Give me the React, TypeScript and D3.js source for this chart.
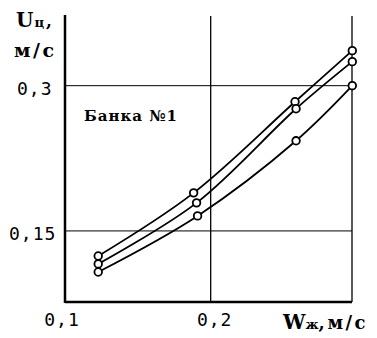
import * as d3 from "d3";
import React from "react";

// values
const curve1X = [0.1228, 0.1883, 0.2579, 0.2972];
const curve1Y = [0.1241, 0.1893, 0.2834, 0.3362];
const curve2X = [0.1228, 0.1903, 0.2586, 0.2972];
const curve2Y = [0.1159, 0.179, 0.2762, 0.3248];
const curve3X = [0.1228, 0.191, 0.2586, 0.2972];
const curve3Y = [0.1076, 0.1655, 0.2431, 0.3];

const xTicks = [0.1, 0.2];
const xTickLabels = ["0,1", "0,2"];
const yTicks = [0.15, 0.3];
const yTickLabels = ["0,15", "0,3"];
const xGrid = [0.2, 0.297];

const width = 377;
const height = 338;
const left = 65;
const right = 352;
const top = 15;
const bottom = 302;

const x = d3.scaleLinear().domain([0.1, 0.297]).range([left, right]);
const y = d3.scaleLinear().domain([0.0766, 0.373]).range([bottom, top]);

const series = [
  { xs: curve1X, ys: curve1Y },
  { xs: curve2X, ys: curve2Y },
  { xs: curve3X, ys: curve3Y },
];

const line = d3
  .line<[number, number]>()
  .x((d) => x(d[0]))
  .y((d) => y(d[1]))
  .curve(d3.curveCatmullRom.alpha(0.5));

const numFont = "'DejaVu Sans Mono', monospace";
const boldFont = "'DejaVu Serif', serif";

const App = () => {
  return (
    <svg
      width={width}
      height={height}
      style={{ position: "absolute", left: 0, top: 0, background: "#fff" }}
    >
      <rect width={width} height={height} fill="#fff" />

      {/* grid */}
      {yTicks.map((t) => (
        <line key={"h" + t} x1={left} x2={right} y1={y(t)} y2={y(t)} stroke="#000" strokeWidth={1} />
      ))}
      {xGrid.map((t) => (
        <line key={"v" + t} x1={x(t)} x2={x(t)} y1={16} y2={bottom} stroke="#000" strokeWidth={1.3} />
      ))}

      {/* axes */}
      <line x1={left} x2={left} y1={top} y2={bottom + 1} stroke="#000" strokeWidth={2.5} />
      <line x1={left} x2={right} y1={bottom} y2={bottom} stroke="#000" strokeWidth={2.5} />

      {/* curves */}
      {series.map((s, i) => (
        <path
          key={"c" + i}
          d={line(s.xs.map((v, j) => [v, s.ys[j]] as [number, number])) || ""}
          fill="none"
          stroke="#000"
          strokeWidth={1.8}
        />
      ))}
      {series.map((s, i) =>
        s.xs.map((v, j) => (
          <circle
            key={"p" + i + "-" + j}
            cx={x(v)}
            cy={y(s.ys[j])}
            r={3.8}
            fill="#fff"
            stroke="#000"
            strokeWidth={1.8}
          />
        ))
      )}

      {/* tick labels */}
      {yTicks.map((t, i) => (
        <text
          key={"yl" + t}
          x={yTickLabels[i].length > 3 ? 9 : 17}
          y={y(t) + 9}
          fontFamily={numFont}
          fontSize={18}
          letterSpacing={1}
        >
          {yTickLabels[i]}
        </text>
      ))}
      {xTicks.map((t, i) => (
        <text
          key={"xl" + t}
          x={x(t) + (i === 0 ? -3 : 4)}
          y={326}
          textAnchor="middle"
          fontFamily={numFont}
          fontSize={18}
          letterSpacing={1}
        >
          {xTickLabels[i]}
        </text>
      ))}

      {/* axis titles */}
      <text x={16} y={27} fontFamily={boldFont} fontWeight="bold" fontSize={20}>
        U<tspan fontSize={13} dx={1}>ц</tspan>
        <tspan fontSize={17} dx={2}>,</tspan>
      </text>
      <text x={14} y={57} fontFamily={boldFont} fontWeight="bold" fontSize={19} letterSpacing={2.5}>
        м/с
      </text>
      <text x={283} y={329} fontFamily={boldFont} fontWeight="bold" fontSize={20}>
        W<tspan fontSize={13}>ж</tspan>
        <tspan fontSize={18} letterSpacing={2.5}>,м/с</tspan>
      </text>

      {/* label */}
      <text x={84} y={121} fontFamily={boldFont} fontWeight="bold" fontSize={15} letterSpacing={1}>
        Банка №1
      </text>
    </svg>
  );
};

export default App;
